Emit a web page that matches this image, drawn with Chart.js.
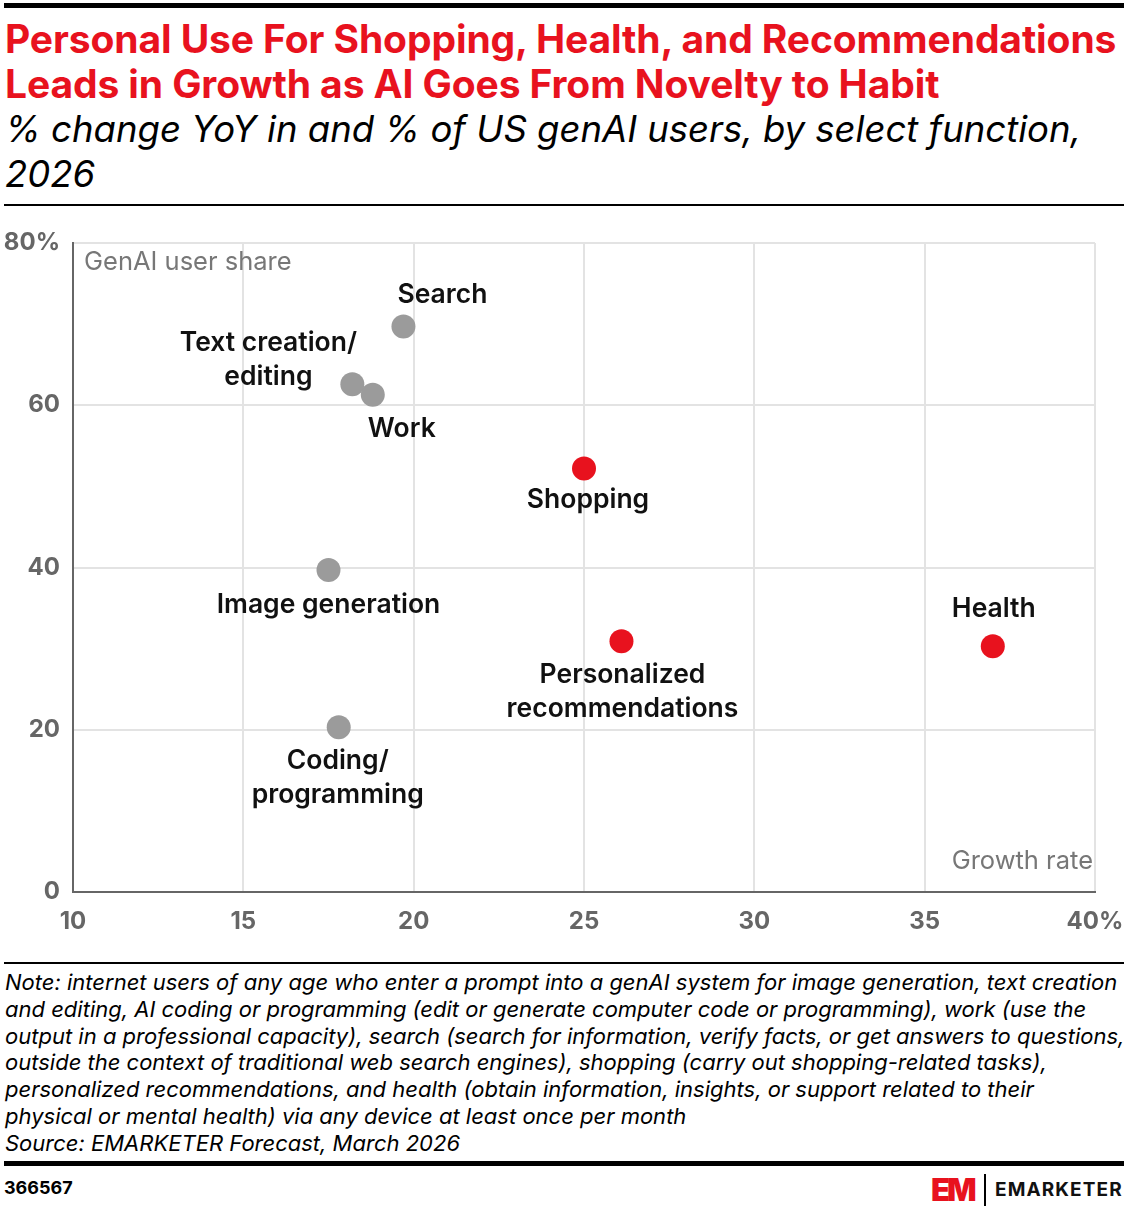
<!DOCTYPE html>
<html>
<head>
<meta charset="utf-8">
<script src="https://cdn.jsdelivr.net/npm/chart.js@4.4.1/dist/chart.umd.min.js"></script>
<style>
  body { margin: 0; width: 1128px; height: 1210px; background: #fff; position: relative; overflow: hidden; font-family: Inter, "Noto Sans", sans-serif; color: #000; }
  .rule { position: absolute; left: 4px; width: 1120px; background: #000; }
  .title { position: absolute; left: 5px; top: 16px; font-size: 39px; font-weight: 700; color: #e8121e; line-height: 45px; white-space: nowrap; letter-spacing: -0.1px; }
  .subtitle { position: absolute; left: 5px; top: 107px; font-size: 36.5px; font-style: italic; line-height: 45px; white-space: nowrap; }
  #chart { position: absolute; left: 0; top: 215px; }
  .note { position: absolute; left: 5px; top: 969px; font-size: 22px; font-style: italic; line-height: 26.8px; white-space: nowrap; }
  .id { position: absolute; left: 4px; top: 1177px; font-size: 18px; font-weight: 700; }
  .logo-em { position: absolute; left: 931px; top: 1172px; font-size: 31px; font-weight: 900; color: #e8121e; letter-spacing: -3px; line-height: 36px; }
  .logo-bar { position: absolute; left: 984px; top: 1174px; width: 2px; height: 32px; background: #000; }
  .logo-txt { position: absolute; left: 995px; top: 1178px; font-size: 19px; font-weight: 700; letter-spacing: 1.1px; color: #111; }
</style>
</head>
<body>
<div class="rule" style="top:3px;height:5px"></div>
<div class="title">Personal Use For Shopping, Health, and Recommendations<br>Leads in Growth as AI Goes From Novelty to Habit</div>
<div class="subtitle">% change YoY in and % of US genAI users, by select function,<br>2026</div>
<div class="rule" style="top:204px;height:2px"></div>

<canvas id="chart" width="1128" height="740"></canvas>

<div class="rule" style="top:962px;height:2px"></div>
<div class="note">Note: internet users of any age who enter a prompt into a genAI system for image generation, text creation<br>and editing, AI coding or programming (edit or generate computer code or programming), work (use the<br>output in a professional capacity), search (search for information, verify facts, or get answers to questions,<br>outside the context of traditional web search engines), shopping (carry out shopping-related tasks),<br>personalized recommendations, and health (obtain information, insights, or support related to their<br>physical or mental health) via any device at least once per month<br>Source: EMARKETER Forecast, March 2026</div>
<div class="rule" style="top:1161px;height:5px"></div>
<div class="id">366567</div>
<div class="logo-em">EM</div>
<div class="logo-bar"></div>
<div class="logo-txt">EMARKETER</div>

<script>
// data
const categories = ['Image generation', 'Text creation/editing', 'Coding/programming', 'Work', 'Search', 'Shopping', 'Personalized recommendations', 'Health'];
const growthRate = [17.5, 18.2, 17.8, 18.8, 19.7, 25.0, 26.1, 37.0];
const userShare = [39.7, 62.6, 20.3, 61.3, 69.7, 52.2, 30.9, 30.3];
const highlighted = [false, false, false, false, false, true, true, true];
const xTicks = [10, 15, 20, 25, 30, 35, 40];
const yTicks = [0, 20, 40, 60, 80];

// label text and placement (styling)
const labelLines = [
  ['Image generation'], ['Text creation/', 'editing'], ['Coding/', 'programming'], ['Work'],
  ['Search'], ['Shopping'], ['Personalized', 'recommendations'], ['Health']
];
const labelOffsets = [[0, 35], [-84, -41], [-1, 34], [29, 34], [39, -32], [4, 32], [1, 34], [1, -37]];

const RED = '#e8121e';
const GRAY = '#9b9b9b';
const FONT = 'Inter, "Noto Sans", sans-serif';

const labelPlugin = {
  id: 'pointLabels',
  afterDatasetsDraw(chart) {
    const ctx = chart.ctx;
    const meta = chart.getDatasetMeta(0);
    ctx.save();
    ctx.font = '600 26.5px ' + FONT;
    ctx.fillStyle = '#111';
    ctx.textAlign = 'center';
    ctx.textBaseline = 'middle';
    meta.data.forEach((pt, i) => {
      const [dx, dy] = labelOffsets[i];
      labelLines[i].forEach((line, j) => ctx.fillText(line, pt.x + dx, pt.y + dy + j * 34));
    });
    const a = chart.chartArea;
    ctx.font = '400 25.5px ' + FONT;
    ctx.fillStyle = '#777';
    ctx.textAlign = 'left';
    ctx.fillText('GenAI user share', a.left + 11, a.top + 19);
    ctx.textAlign = 'right';
    ctx.fillText('Growth rate', a.right - 2, a.bottom - 31);
    ctx.restore();
  }
};

new Chart(document.getElementById('chart'), {
  type: 'scatter',
  data: {
    datasets: [{
      data: growthRate.map((x, i) => ({ x: x, y: userShare[i] })),
      backgroundColor: highlighted.map(h => h ? RED : GRAY),
      borderWidth: 0,
      pointRadius: 12,
      pointHoverRadius: 12
    }]
  },
  options: {
    responsive: false,
    animation: false,
    events: [],
    layout: { padding: { top: 28, right: 33, left: 0, bottom: 0 } },
    plugins: { legend: { display: false }, tooltip: { enabled: false } },
    scales: {
      x: {
        type: 'linear',
        min: xTicks[0],
        max: xTicks[xTicks.length - 1],
        afterBuildTicks: s => { s.ticks = xTicks.map(v => ({ value: v })); },
        afterFit: s => { s.height = 63; s.paddingLeft = 0; s.paddingRight = 0; },
        grid: { color: '#e3e3e3', lineWidth: 2, drawTicks: false },
        border: { color: '#666', width: 2 },
        ticks: {
          padding: 15,
          color: '#666',
          font: { family: FONT, size: 24, weight: 'bold' },
          callback: v => v === 40 ? '40%' : String(v)
        }
      },
      y: {
        min: yTicks[0],
        max: yTicks[yTicks.length - 1],
        afterBuildTicks: s => { s.ticks = yTicks.map(v => ({ value: v })); },
        afterFit: s => { s.width = 73; s.paddingTop = 0; s.paddingBottom = 0; },
        grid: { color: '#e3e3e3', lineWidth: 2, drawTicks: false },
        border: { color: '#666', width: 2 },
        ticks: {
          padding: 13,
          color: '#666',
          font: { family: FONT, size: 24, weight: 'bold' },
          callback: v => v === 80 ? '80%' : String(v)
        }
      }
    }
  },
  plugins: [labelPlugin]
});
</script>
</body>
</html>
